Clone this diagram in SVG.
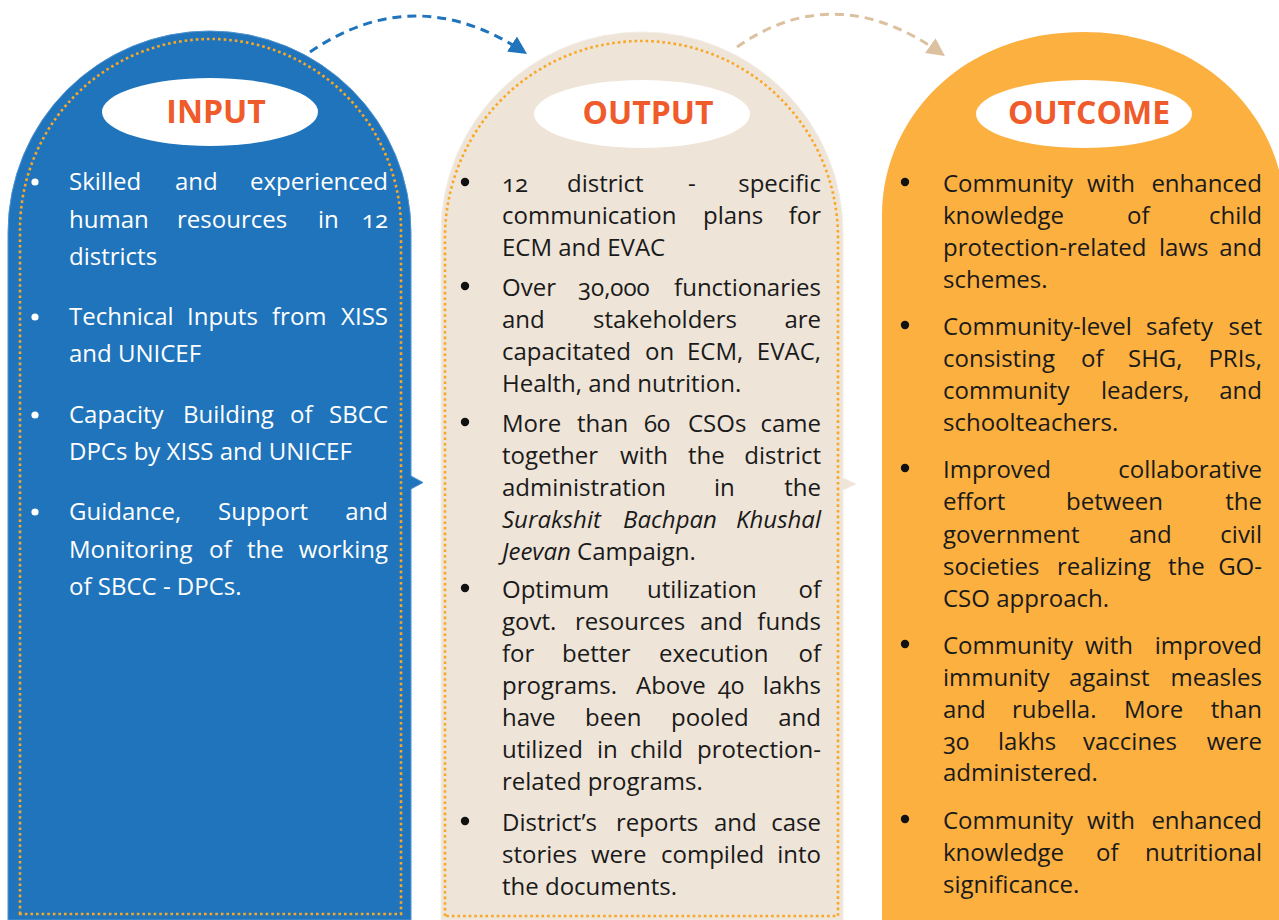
<svg xmlns="http://www.w3.org/2000/svg" width="1279" height="920" viewBox="0 0 1279 920">
<style>
.b{font-family:"Open Sans","Noto Sans",sans-serif;font-size:24px;font-feature-settings:"onum" 1}
.w{fill:#ffffff}
.k{fill:#1a1a1a}
.e{text-anchor:end}
.i{font-style:italic}
.h{font-family:"Open Sans","Noto Sans",sans-serif;font-weight:700;font-size:32px;fill:#EF5B2B;text-anchor:middle}
.dots{fill:none;stroke:#F9A825;stroke-width:2.6;stroke-dasharray:2.6 3}
.lbl{fill:#ffffff}
</style>
<defs>
<marker id="ab" viewBox="0 0 10 10" refX="8" refY="5" markerWidth="6" markerHeight="6" markerUnits="strokeWidth" orient="auto">
<path d="M0,0 L10,5 L0,10 Z" fill="#1F74BB"/>
</marker>
<marker id="at" viewBox="0 0 10 10" refX="8" refY="5" markerWidth="6" markerHeight="6" markerUnits="strokeWidth" orient="auto">
<path d="M0,0 L10,5 L0,10 Z" fill="#DCC1A0"/>
</marker>
</defs>
<rect width="1279" height="920" fill="#ffffff"/>

<g id="input">
<path d="M8,920 L8,232.5 A201.5,201.5 0 0 1 411,232.5 L411,476 L423,482.5 L411,489 L411,920 Z" fill="#1F74BB" stroke="#4F93CF" stroke-width="1"/>
<path class="dots" d="M20,914 L20,229.5 A190.5,190.5 0 0 1 401,229.5 L401,914 Z"/>
<ellipse class="lbl" cx="210" cy="112" rx="108" ry="34"/>
<text class="h" x="216" y="123">INPUT</text>
<g fill="#ffffff">
<circle cx="35" cy="182" r="3.6"/><circle cx="35" cy="317" r="3.6"/><circle cx="35" cy="415" r="3.6"/><circle cx="35" cy="512" r="3.6"/>
</g>
<g class="b w">
<text y="190"><tspan x="69">Skilled</tspan><tspan x="175">and</tspan><tspan x="388" class="e">experienced</tspan></text>
<text y="228"><tspan x="69">human</tspan><tspan x="177">resources</tspan><tspan x="318">in</tspan><tspan x="388" class="e">12</tspan></text>
<text y="265" x="69">districts</text>
<text y="325"><tspan x="69">Technical</tspan><tspan x="187">Inputs</tspan><tspan x="272">from</tspan><tspan x="388" class="e">XISS</tspan></text>
<text y="362" x="69">and UNICEF</text>
<text y="423"><tspan x="69">Capacity</tspan><tspan x="183">Building</tspan><tspan x="290">of</tspan><tspan x="388" class="e">SBCC</tspan></text>
<text y="460" x="69">DPCs by XISS and UNICEF</text>
<text y="520"><tspan x="69">Guidance,</tspan><tspan x="218">Support</tspan><tspan x="388" class="e">and</tspan></text>
<text y="558"><tspan x="69">Monitoring</tspan><tspan x="209">of</tspan><tspan x="247">the</tspan><tspan x="388" class="e">working</tspan></text>
<text y="595" x="69">of SBCC - DPCs.</text>
</g>
</g>

<g id="output">
<path d="M441,920 L441,233 A201,201 0 0 1 843,233 L843,478 L856,484 L843,490 L843,920 Z" fill="#EEE4D8" stroke="#F4EEE6" stroke-width="1"/>
<path class="dots" d="M445,916 L445,237.5 A196.5,196.5 0 0 1 838,237.5 L838,916 Z"/>
<ellipse class="lbl" cx="642" cy="114" rx="108" ry="34"/>
<text class="h" x="648" y="124">OUTPUT</text>
<g fill="#111111">
<circle cx="465" cy="182" r="4.2"/><circle cx="465" cy="286" r="4.2"/><circle cx="465" cy="422" r="4.2"/><circle cx="465" cy="588" r="4.2"/><circle cx="465" cy="821" r="4.2"/>
</g>
<g class="b k">
<text y="192"><tspan x="502">12</tspan><tspan x="567">district</tspan><tspan x="688">-</tspan><tspan x="821" class="e">specific</tspan></text>
<text y="224"><tspan x="502">communication</tspan><tspan x="703">plans</tspan><tspan x="821" class="e">for</tspan></text>
<text y="256" x="502">ECM and EVAC</text>
<text y="296"><tspan x="502">Over</tspan><tspan x="578">30,000</tspan><tspan x="821" class="e">functionaries</tspan></text>
<text y="328"><tspan x="502">and</tspan><tspan x="593">stakeholders</tspan><tspan x="821" class="e">are</tspan></text>
<text y="360"><tspan x="502">capacitated</tspan><tspan x="645">on</tspan><tspan x="687">ECM,</tspan><tspan x="821" class="e">EVAC,</tspan></text>
<text y="392" x="502">Health, and nutrition.</text>
<text y="432"><tspan x="502">More</tspan><tspan x="577">than</tspan><tspan x="644">60</tspan><tspan x="688">CSOs</tspan><tspan x="821" class="e">came</tspan></text>
<text y="464"><tspan x="502">together</tspan><tspan x="620">with</tspan><tspan x="688">the</tspan><tspan x="821" class="e">district</tspan></text>
<text y="496"><tspan x="502">administration</tspan><tspan x="714">in</tspan><tspan x="821" class="e">the</tspan></text>
<text y="528" class="i"><tspan x="502">Surakshit</tspan><tspan x="623">Bachpan</tspan><tspan x="821" class="e">Khushal</tspan></text>
<text y="560" x="502"><tspan class="i">Jeevan</tspan> Campaign.</text>
<text y="598"><tspan x="502">Optimum</tspan><tspan x="647">utilization</tspan><tspan x="821" class="e">of</tspan></text>
<text y="630"><tspan x="502">govt.</tspan><tspan x="575">resources</tspan><tspan x="700">and</tspan><tspan x="821" class="e">funds</tspan></text>
<text y="662"><tspan x="502">for</tspan><tspan x="562">better</tspan><tspan x="659">execution</tspan><tspan x="821" class="e">of</tspan></text>
<text y="694"><tspan x="502">programs.</tspan><tspan x="636">Above</tspan><tspan x="718">40</tspan><tspan x="821" class="e">lakhs</tspan></text>
<text y="726"><tspan x="502">have</tspan><tspan x="585">been</tspan><tspan x="671">pooled</tspan><tspan x="821" class="e">and</tspan></text>
<text y="758"><tspan x="502">utilized</tspan><tspan x="597">in</tspan><tspan x="630">child</tspan><tspan x="821" class="e">protection-</tspan></text>
<text y="790" x="502">related programs.</text>
<text y="831"><tspan x="502">District’s</tspan><tspan x="616">reports</tspan><tspan x="714">and</tspan><tspan x="821" class="e">case</tspan></text>
<text y="863"><tspan x="502">stories</tspan><tspan x="591">were</tspan><tspan x="661">compiled</tspan><tspan x="821" class="e">into</tspan></text>
<text y="895" x="502">the documents.</text>
</g>
</g>

<g id="outcome">
<path d="M882,920 L882,215 C882,120 960,32 1083,32 C1206,32 1285,120 1285,215 L1285,920 Z" fill="#FBB040"/>
<ellipse class="lbl" cx="1084" cy="114" rx="108" ry="34"/>
<text class="h" x="1089" y="124">OUTCOME</text>
<g fill="#111111">
<circle cx="905" cy="182" r="4.2"/><circle cx="905" cy="325" r="4.2"/><circle cx="905" cy="468" r="4.2"/><circle cx="905" cy="644" r="4.2"/><circle cx="905" cy="819" r="4.2"/>
</g>
<g class="b k">
<text y="192"><tspan x="943">Community</tspan><tspan x="1087">with</tspan><tspan x="1262" class="e">enhanced</tspan></text>
<text y="224"><tspan x="943">knowledge</tspan><tspan x="1127">of</tspan><tspan x="1262" class="e">child</tspan></text>
<text y="256"><tspan x="943">protection-related</tspan><tspan x="1159">laws</tspan><tspan x="1262" class="e">and</tspan></text>
<text y="288" x="943">schemes.</text>
<text y="335"><tspan x="943">Community-level</tspan><tspan x="1146">safety</tspan><tspan x="1262" class="e">set</tspan></text>
<text y="367"><tspan x="943">consisting</tspan><tspan x="1081">of</tspan><tspan x="1128">SHG,</tspan><tspan x="1262" class="e">PRIs,</tspan></text>
<text y="399"><tspan x="943">community</tspan><tspan x="1101">leaders,</tspan><tspan x="1262" class="e">and</tspan></text>
<text y="431" x="943">schoolteachers.</text>
<text y="478"><tspan x="943">Improved</tspan><tspan x="1262" class="e">collaborative</tspan></text>
<text y="510"><tspan x="943">effort</tspan><tspan x="1066">between</tspan><tspan x="1262" class="e">the</tspan></text>
<text y="543"><tspan x="943">government</tspan><tspan x="1129">and</tspan><tspan x="1262" class="e">civil</tspan></text>
<text y="575"><tspan x="943">societies</tspan><tspan x="1057">realizing</tspan><tspan x="1168">the</tspan><tspan x="1262" class="e">GO-</tspan></text>
<text y="607" x="943">CSO approach.</text>
<text y="654"><tspan x="943">Community</tspan><tspan x="1085">with</tspan><tspan x="1262" class="e">improved</tspan></text>
<text y="686"><tspan x="943">immunity</tspan><tspan x="1069">against</tspan><tspan x="1262" class="e">measles</tspan></text>
<text y="718"><tspan x="943">and</tspan><tspan x="1012">rubella.</tspan><tspan x="1124">More</tspan><tspan x="1262" class="e">than</tspan></text>
<text y="750"><tspan x="943">30</tspan><tspan x="998">lakhs</tspan><tspan x="1083">vaccines</tspan><tspan x="1262" class="e">were</tspan></text>
<text y="781" x="943">administered.</text>
<text y="829"><tspan x="943">Community</tspan><tspan x="1087">with</tspan><tspan x="1262" class="e">enhanced</tspan></text>
<text y="861"><tspan x="943">knowledge</tspan><tspan x="1096">of</tspan><tspan x="1262" class="e">nutritional</tspan></text>
<text y="893" x="943">significance.</text>
</g>
</g>

<g id="connectors" fill="none" stroke-width="3" stroke-dasharray="9 6">
<path d="M310,52 Q415,-20 524,52" stroke="#1F74BB" marker-end="url(#ab)"/>
<path d="M737,47 Q836,-22 942,54" stroke="#DCC1A0" marker-end="url(#at)"/>
</g>
</svg>
